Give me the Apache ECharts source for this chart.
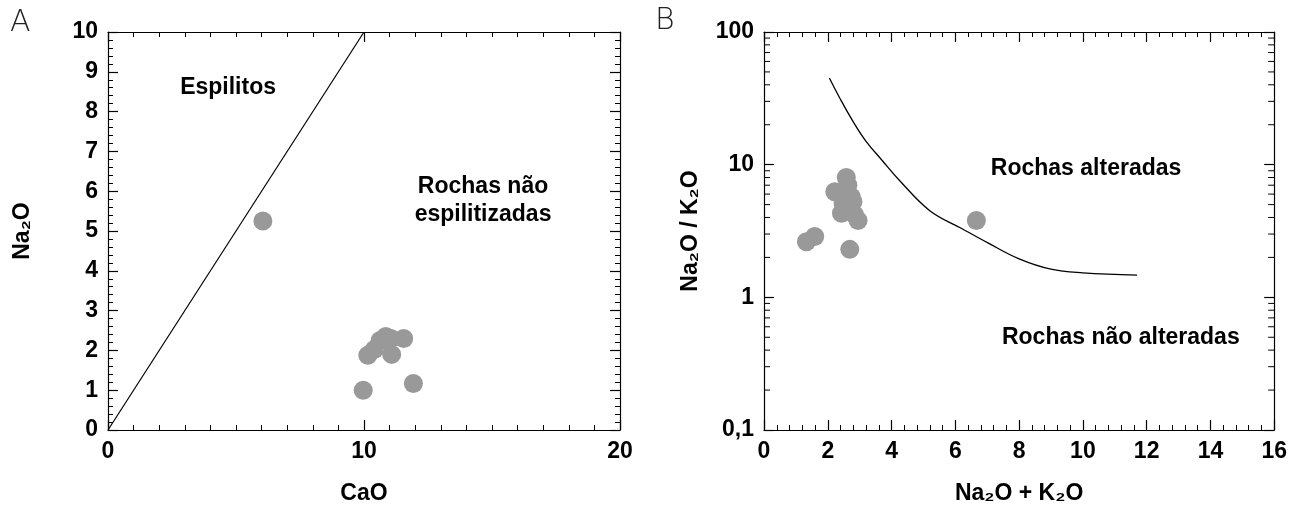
<!DOCTYPE html>
<html>
<head>
<meta charset="utf-8">
<script src="https://cdn.jsdelivr.net/npm/echarts@6/dist/echarts.min.js"></script>
<style>
html, body { margin: 0; background: #fff; }
#chart { width: 1290px; height: 513px; }
</style>
</head>
<body>
<div id="chart"></div>
<script>
// painel A: CaO x Na2O
var espiliPts = [[6.05, 5.25], [9.97, 1.0], [11.93, 1.17], [10.15, 1.88], [10.4, 2.02], [10.63, 2.25],
    [10.85, 2.35], [11.05, 2.3], [11.08, 1.9], [11.55, 2.3]];
var espiliLine = [[0, 0], [10, 10]];
// painel B: Na2O+K2O x Na2O/K2O
var alterPts = [[2.58, 8.0], [2.22, 6.25], [2.63, 7.0], [2.74, 5.7], [2.48, 5.1], [2.79, 5.25], [2.43, 4.3],
    [2.95, 3.8], [2.84, 4.2], [1.33, 2.62], [1.59, 2.87], [2.69, 2.3], [6.66, 3.8]];
var alterCurve = [[2.05, 45], [2.4, 31], [2.8, 21], [3.2, 15], [3.7, 10.8], [4.25, 7.6], [5.2, 4.5], [6.2, 3.3],
    [7.05, 2.55], [8, 1.95], [9, 1.63], [10, 1.53], [11.7, 1.47]];
var logMinor = [0.2, 0.3, 0.4, 0.5, 0.6, 0.7, 0.8, 0.9, 2, 3, 4, 5, 6, 7, 8, 9, 20, 30, 40, 50, 60, 70, 80, 90];
var labelsA = [{name: 'Espilitos', value: [4.69, 8.6]}, {name: 'Rochas não\nespilitizadas', value: [14.65, 5.75]}];
var labelsB = [{name: 'Rochas alteradas', value: [10.1, 9.4]}, {name: 'Rochas não alteradas', value: [11.19, 0.5]}];

var FONT = '"Liberation Sans", Arial, sans-serif';
var axisLine = {show: true, onZero: false, lineStyle: {color: '#000', width: 1.2}};
var tickMajor = {show: true, inside: true, length: 10, lineStyle: {color: '#000', width: 1.2}};
var tickLabel = {fontFamily: FONT, fontWeight: 'bold', fontSize: 23, color: '#000'};
var nameStyle = {fontFamily: FONT, fontWeight: 'bold', fontSize: 23, color: '#000'};
var noteLabel = {show: true, position: 'inside', formatter: '{b}', fontFamily: FONT, fontWeight: 'bold',
    fontSize: 23, color: '#000', opacity: 1, textBorderWidth: 0, lineHeight: 28, align: 'center'};

function mkAxis(o, split, showLabel) {
    var a = {
        type: 'value', axisLine: axisLine, axisTick: tickMajor,
        minorTick: {show: true, splitNumber: split, length: 5, lineStyle: {color: '#000', width: 1}},
        splitLine: {show: false}, minorSplitLine: {show: false},
        axisLabel: Object.assign({show: showLabel, margin: 10}, tickLabel)
    };
    return Object.assign(a, o);
}

var chart = echarts.init(document.getElementById('chart'));
chart.setOption({
    backgroundColor: '#fff',
    animation: false,
    graphic: [
        {type: 'text', left: 10, top: 8, style: {text: 'A', fontFamily: '"DejaVu Sans", sans-serif', fontWeight: 200, fontSize: 30, fill: '#222'}},
        {type: 'text', left: 655, top: 6, style: {text: 'B', fontFamily: '"DejaVu Sans", sans-serif', fontWeight: 200, fontSize: 30, fill: '#222'}}
    ],
    grid: [
        {left: 108, width: 512, top: 32, bottom: 83},
        {left: 764, right: 14, top: 32, bottom: 83}
    ],
    xAxis: [
        mkAxis({gridIndex: 0, min: 0, max: 20, interval: 10, position: 'bottom', name: 'CaO',
            nameLocation: 'middle', nameGap: 52, nameTextStyle: nameStyle}, 10, true),
        mkAxis({gridIndex: 0, min: 0, max: 20, interval: 10, position: 'top'}, 10, false),
        mkAxis({gridIndex: 1, min: 0, max: 16, interval: 2, position: 'bottom', name: 'Na₂O + K₂O',
            nameLocation: 'middle', nameGap: 52, nameTextStyle: nameStyle}, 5, true),
        mkAxis({gridIndex: 1, min: 0, max: 16, interval: 2, position: 'top'}, 5, false)
    ],
    yAxis: [
        mkAxis({gridIndex: 0, min: 0, max: 10, interval: 1, position: 'left', name: 'Na₂O',
            nameLocation: 'middle', nameGap: 74, nameTextStyle: nameStyle}, 5, true),
        mkAxis({gridIndex: 0, min: 0, max: 10, interval: 1, position: 'right'}, 5, false),
        {gridIndex: 1, type: 'log', logBase: 10, min: 0.1, max: 100, position: 'left',
            name: 'Na₂O / K₂O', nameLocation: 'middle', nameGap: 62, nameTextStyle: nameStyle,
            axisLine: axisLine, axisTick: tickMajor, splitLine: {show: false},
            axisLabel: Object.assign({margin: 10, formatter: function (v) { return String(v).replace('.', ','); }}, tickLabel)},
        {gridIndex: 1, type: 'log', logBase: 10, min: 0.1, max: 100, position: 'right',
            axisLine: axisLine, axisTick: tickMajor, splitLine: {show: false}, axisLabel: {show: false}}
    ],
    series: [
        {type: 'line', xAxisIndex: 0, yAxisIndex: 0, data: espiliLine, showSymbol: false, symbol: 'none',
            lineStyle: {color: '#000', width: 1.2}},
        {type: 'scatter', xAxisIndex: 0, yAxisIndex: 0, data: espiliPts, symbolSize: 19,
            itemStyle: {color: '#999999', opacity: 1}},
        {type: 'scatter', xAxisIndex: 0, yAxisIndex: 0, data: labelsA, symbolSize: 0, label: noteLabel,
            itemStyle: {opacity: 1}},
        {type: 'line', xAxisIndex: 2, yAxisIndex: 2, data: alterCurve, smooth: 0.4, showSymbol: false, symbol: 'none',
            lineStyle: {color: '#000', width: 1.3}},
        {type: 'scatter', xAxisIndex: 2, yAxisIndex: 2, data: alterPts, symbolSize: 19,
            itemStyle: {color: '#999999', opacity: 1}},
        {type: 'scatter', xAxisIndex: 2, yAxisIndex: 2, data: labelsB, symbolSize: 0, label: noteLabel,
            itemStyle: {opacity: 1}},
        {type: 'custom', xAxisIndex: 2, yAxisIndex: 2, silent: true,
            data: logMinor.map(function (v) { return [0, v]; }),
            renderItem: function (params, api) {
                var l = api.coord([0, api.value(1)]);
                var r = api.coord([16, api.value(1)]);
                return {type: 'group', children: [
                    {type: 'line', shape: {x1: l[0], y1: l[1], x2: l[0] + 6, y2: l[1]}, style: {stroke: '#000', lineWidth: 1}},
                    {type: 'line', shape: {x1: r[0], y1: r[1], x2: r[0] - 6, y2: r[1]}, style: {stroke: '#000', lineWidth: 1}}
                ]};
            }}
    ]
});
</script>
</body>
</html>
